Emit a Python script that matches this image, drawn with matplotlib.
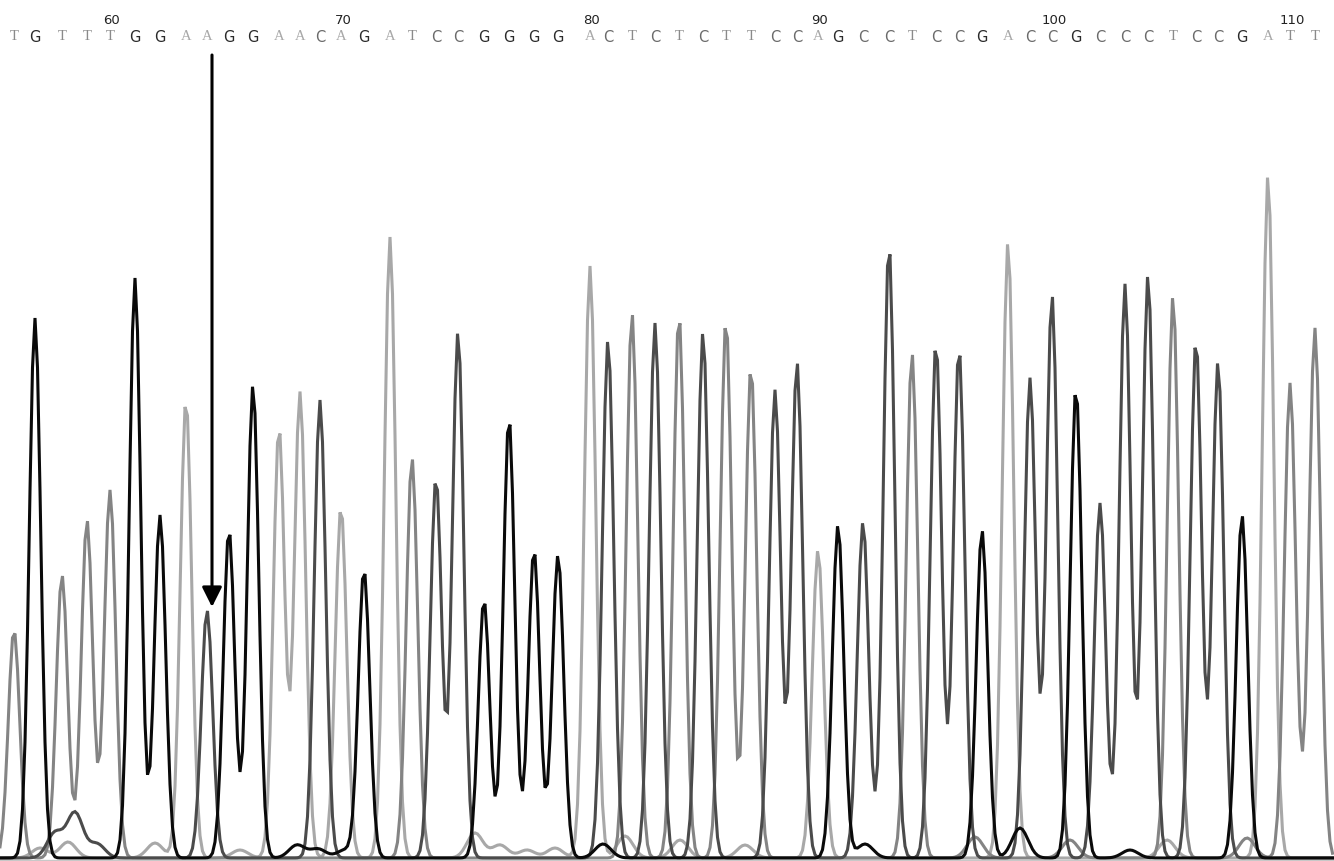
"""Sanger chromatogram, grayscale trace view (positions 56-111)."""

import matplotlib

matplotlib.use("Agg")

import matplotlib.pyplot as plt  # noqa: E402
import numpy as np  # noqa: E402

# called bases, first one is position 56
FIRST_POS = 56
bases = "TGTTTGGAAGGAACAGATCCGGGGACTCTCTTCCAGCCTCCGACCGCCCTCCGATT"
# channel of the main peak at each position (64 shows a C peak under the arrow)
peak_channel = "TGTTTGGACGGAACAGATCCGGGGACTCTCTTCCAGCCTCCGACCGCCCTCCGATT"

# peak centre (scan units) and height
peak_x = [14, 35, 62, 87, 110, 135, 160, 186, 207, 229,
          253, 279, 300, 320, 341, 364, 390, 412, 436, 458,
          484, 509, 534, 558, 590, 608, 632, 655, 679, 703,
          726, 751, 775, 797, 818, 838, 863, 889, 912, 936,
          959, 982, 1008, 1030, 1052, 1076, 1100, 1125, 1148, 1173,
          1196, 1218, 1242, 1268, 1290, 1315]
peak_h = [228, 540, 283, 338, 368, 580, 343, 458, 248, 328,
          473, 430, 466, 458, 351, 288, 621, 400, 380, 526,
          258, 440, 308, 303, 592, 518, 545, 535, 543, 526,
          538, 491, 468, 496, 308, 333, 336, 613, 505, 515,
          510, 328, 616, 480, 563, 470, 355, 574, 583, 562,
          518, 496, 343, 683, 473, 518]

# small background peaks near the baseline
bg_channel = "CCCAAAAAAAAAAAATTTTGGGGGGG"
bg_x = [55, 75, 97, 40, 68, 155, 240, 475, 500, 527, 555, 625, 680, 745, 1167, 1307,
        975, 1070, 1247, 865,
        297, 318, 345, 603, 1020, 1130, 1280]
bg_h = [25, 45, 14, 10, 16, 15, 8, 25, 13, 8, 10, 22, 18, 13, 18, 20,
        21, 18, 20, 14,
        13, 9, 8, 14, 30, 8, 31]

ARROW_POS = 64

COLORS = {"G": "#0a0a0a", "C": "#4b4b4b", "T": "#848484", "A": "#a8a8a8"}
TEXT_COLORS = {"G": "#2a2a2a", "C": "#6a6a6a", "T": "#8a8a8a", "A": "#a8a8a8"}
TEXT_FAMILY = {"G": "DejaVu Sans", "C": "DejaVu Sans",
               "T": "Liberation Serif", "A": "Liberation Serif"}
SIGMA = 5.7

fig = plt.figure(figsize=(13.34, 8.61), dpi=100)
fig.patch.set_facecolor("white")
ax = fig.add_axes([0, 0, 1, 1])
ax.set_xlim(0, 1334)
ax.set_ylim(-3, 858)
ax.axis("off")

scan = np.arange(0, 1335, 2.5)
for base in "ATCG":
    trace = np.zeros_like(scan, dtype=float)
    for x, h, ch in zip(peak_x, peak_h, peak_channel):
        if ch == base:
            trace += h * np.exp(-((scan - x) ** 2) / (2 * SIGMA ** 2))
    for x, h, ch in zip(bg_x, bg_h, bg_channel):
        if ch == base:
            trace += h * np.exp(-((scan - x) ** 2) / (2 * (SIGMA * 1.4) ** 2))
    ax.plot(scan, trace, color=COLORS[base], lw=2.2, solid_joinstyle="miter")

ax.axhline(-1.5, color="#c8c8c8", lw=1)

# base calls and position numbers
for i, (x, b) in enumerate(zip(peak_x, bases)):
    pos = FIRST_POS + i
    ax.text(x, 821, b, ha="center", va="center", fontsize=10.5,
            color=TEXT_COLORS[b], family=TEXT_FAMILY[b])
    if pos % 10 == 0:
        ax.text(x + 2, 838, str(pos), ha="center", va="center", fontsize=9.5,
                color="#222222")

# arrow marking the variant position
k = ARROW_POS - FIRST_POS
ax.annotate("", xy=(peak_x[k] + 5, peak_h[k] + 3), xytext=(peak_x[k] + 5, 803),
            arrowprops=dict(arrowstyle="-|>,head_length=1.2,head_width=0.6",
                            mutation_scale=10, lw=2.2, color="black",
                            shrinkA=0, shrinkB=0))

fig.savefig("out.png", dpi=100, facecolor="white")
